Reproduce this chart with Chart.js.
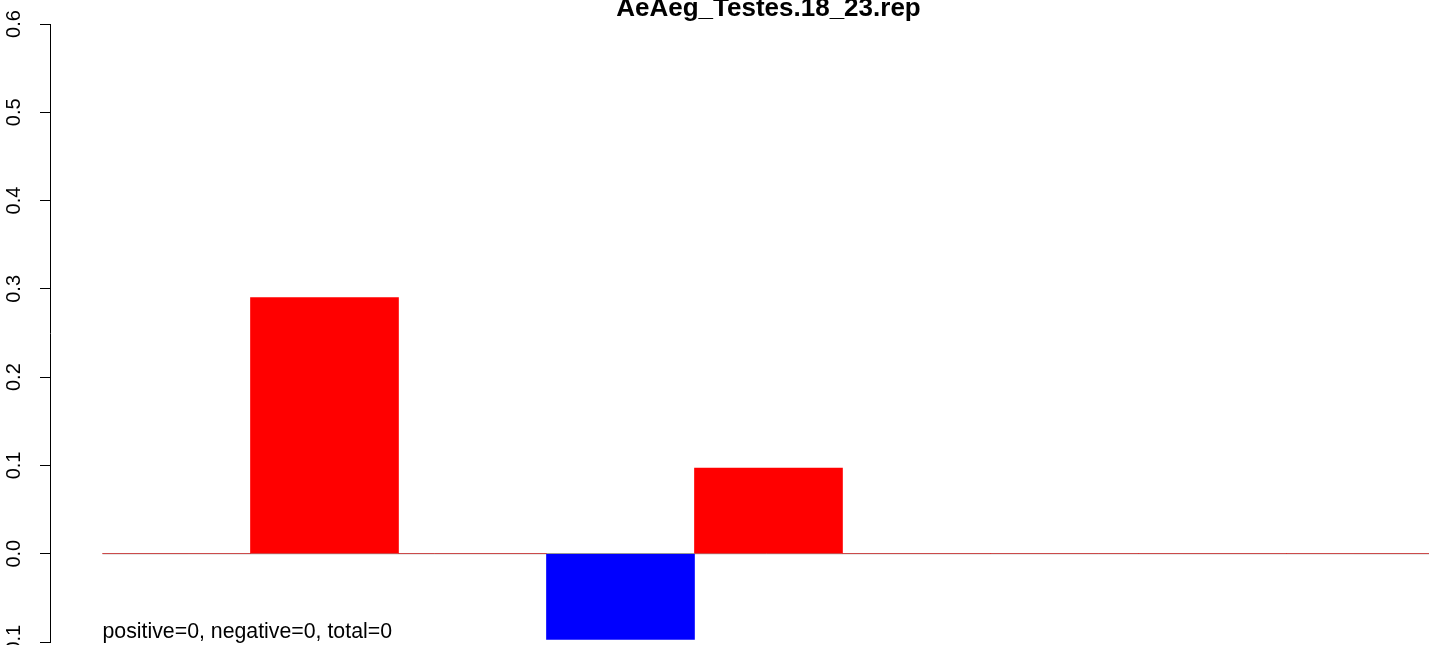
<!DOCTYPE html>
<html>
<head>
<meta charset="utf-8">
<title>AeAeg_Testes.18_23.rep</title>
<script src="https://cdn.jsdelivr.net/npm/chart.js@4/dist/chart.umd.min.js"></script>
<style>
  html, body { margin: 0; padding: 0; background: #fff; overflow: hidden; }
  canvas { display: block; }
</style>
</head>
<body>
<canvas id="chart" width="1429" height="645"></canvas>
<script>
// chart values
const chartTitle = 'AeAeg_Testes.18_23.rep';
const noteText = 'positive=0, negative=0, total=0';
const categories = ['1', '2', '3', '4', '5', '6', '7', '8', '9'];
const values = [0, 0.29, 0, -0.097, 0.097, 0, 0, 0, 0];
const yTicks = [-0.1, 0.0, 0.1, 0.2, 0.3, 0.4, 0.5, 0.6];

const FONT = '"Liberation Sans", Arial, Helvetica, sans-serif';

// title and the note under the bars, placed from the x scale
const textPlugin = {
  id: 'rText',
  afterDraw(chart) {
    const ctx = chart.ctx;
    const xs = chart.scales.x;
    ctx.save();
    ctx.fillStyle = '#000';
    ctx.textBaseline = 'alphabetic';
    ctx.font = 'bold 26px ' + FONT;
    ctx.textAlign = 'center';
    ctx.fillText(chartTitle, xs.getPixelForValue(categories.length / 2), 16);
    ctx.font = '21.3px ' + FONT;
    ctx.textAlign = 'left';
    ctx.fillText(noteText, xs.getPixelForValue(0), 638);
    ctx.restore();
  }
};

const ctx = document.getElementById('chart').getContext('2d');
const chart = new Chart(ctx, {
  data: {
    datasets: [
      {
        type: 'bar',
        data: values.map((v, i) => ({ x: i + 0.5, y: v })),
        backgroundColor: values.map(v => v < 0 ? '#0000ff' : '#ff0000'),
        borderWidth: 0,
        barPercentage: 1,
        categoryPercentage: 1,
        order: 0
      },
      {
        type: 'line',
        data: [{ x: 0, y: 0 }, { x: categories.length, y: 0 }],
        borderColor: '#7f7f7f',
        borderWidth: 1,
        pointRadius: 0,
        order: 1
      }
    ]
  },
  options: {
    responsive: false,
    animation: false,
    devicePixelRatio: 1,
    layout: { padding: { top: 24, bottom: 3, left: 0, right: 0 } },
    plugins: {
      legend: { display: false },
      tooltip: { enabled: false },
      title: { display: false }
    },
    scales: {
      x: {
        type: 'linear',
        display: false,
        offset: false,
        min: -0.3547,
        max: 8.963,
        afterBuildTicks(scale) {
          scale.ticks = categories.map((c, i) => ({ value: i + 0.5 }));
        }
      },
      y: {
        position: 'left',
        min: yTicks[0],
        max: yTicks[yTicks.length - 1],
        afterBuildTicks(scale) {
          scale.ticks = yTicks.map(v => ({ value: v }));
        },
        afterFit(scale) {
          scale.width = 50;
          scale.paddingTop = 0;
          scale.paddingBottom = 0;
        },
        border: { display: true, color: '#000', width: 1 },
        grid: {
          drawOnChartArea: false,
          drawTicks: true,
          tickLength: 10,
          tickColor: '#000',
          tickWidth: 1
        },
        ticks: {
          autoSkip: false,
          minRotation: 90,
          maxRotation: 90,
          crossAlign: 'center',
          padding: 8,
          color: '#000',
          font: { family: FONT, size: 20 },
          callback: v => Number(v).toFixed(1)
        }
      }
    }
  },
  plugins: [textPlugin]
});
</script>
</body>
</html>
